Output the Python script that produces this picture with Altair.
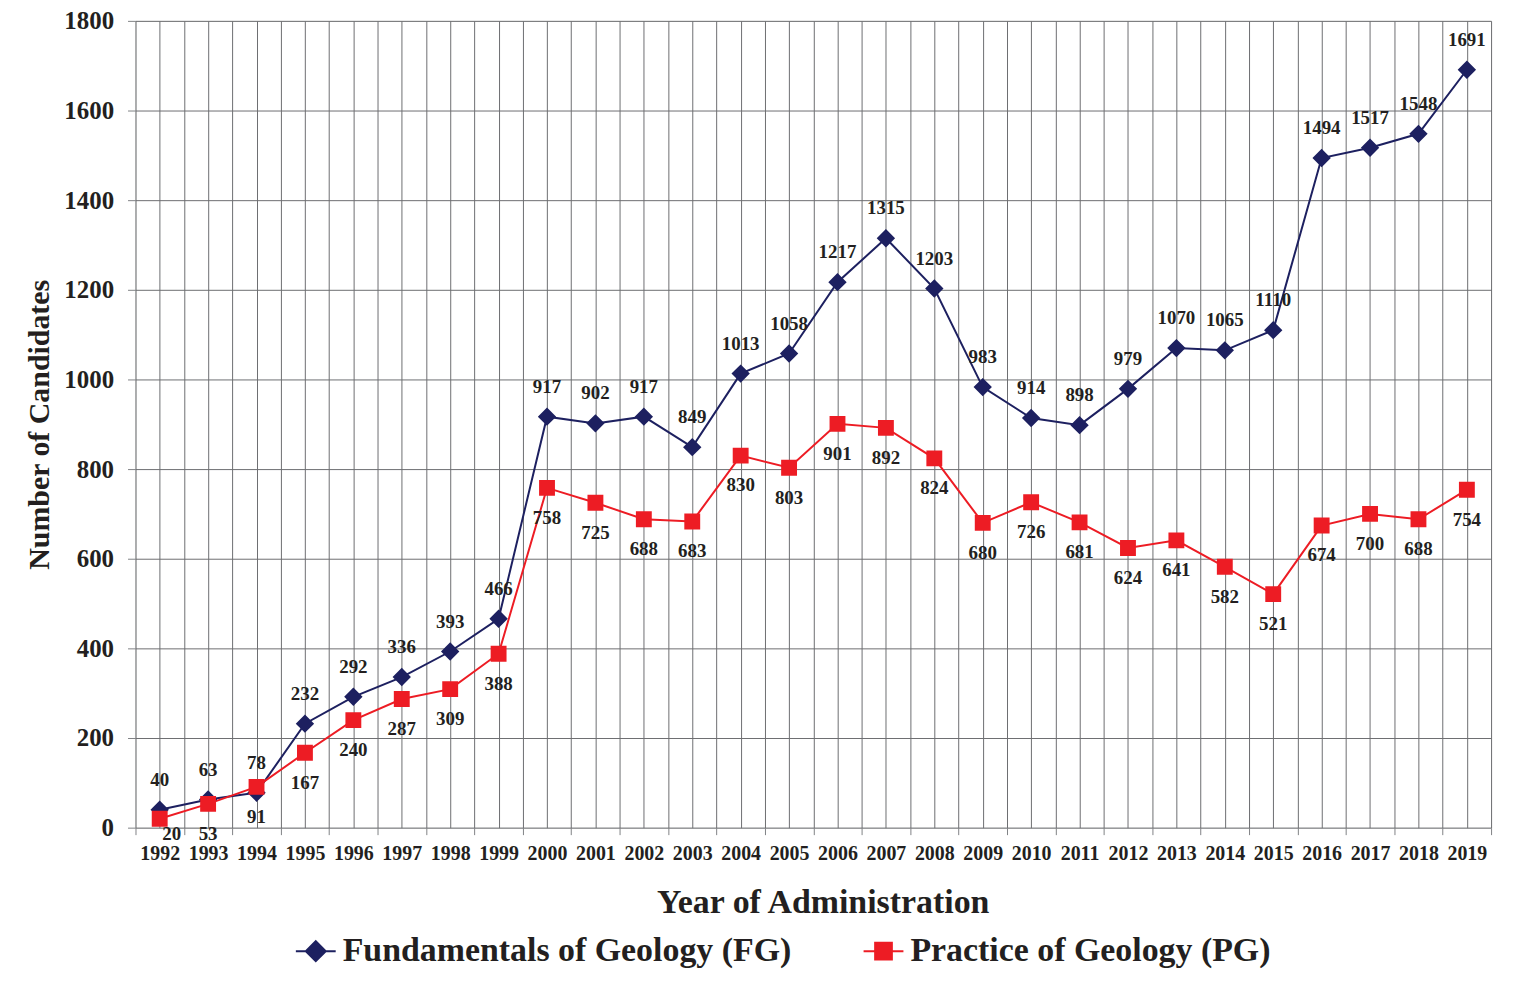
import altair as alt
import pandas as pd

years = list(range(1992, 2020))
fg = [40, 63, 78, 232, 292, 336, 393, 466, 917, 902, 917, 849, 1013, 1058,
      1217, 1315, 1203, 983, 914, 898, 979, 1070, 1065, 1110, 1494, 1517, 1548, 1691]
pg = [20, 53, 91, 167, 240, 287, 309, 388, 758, 725, 688, 683, 830, 803,
      901, 892, 824, 680, 726, 681, 624, 641, 582, 521, 674, 700, 688, 754]
series_names = ["Fundamentals of Geology (FG)", "Practice of Geology (PG)"]
colors = ["#1d2060", "#ed1c24"]
y_ticks = list(range(0, 1801, 200))

df = pd.DataFrame({
    "year": years * 2,
    "value": fg + pg,
    "series": [series_names[0]] * len(years) + [series_names[1]] * len(years),
})

FONT = "Liberation Serif"
TXT = "#231f20"
GRID = "#6d6e71"

x_vals = [1991.5 + 0.5 * i for i in range(57)]

x_enc = alt.X(
    "year:Q",
    scale=alt.Scale(domain=[1991.5, 2019.5], nice=False, zero=False),
    axis=alt.Axis(
        values=x_vals,
        labelExpr="datum.value % 1 === 0 ? format(datum.value, 'd') : ''",
        labelOverlap=False,
        labelFlush=False,
        labelFont=FONT, labelFontSize=20, labelFontWeight="bold", labelColor=TXT,
        labelPadding=9,
        tickSize=7,
        tickColor={"condition": {"test": "datum.value % 1 === 0", "value": "transparent"}, "value": "#808285"},
        grid=True, gridColor=GRID, gridWidth=1,
        domain=False,
        title="Year of Administration",
        titleFont=FONT, titleFontSize=34, titleFontWeight="bold", titleColor=TXT,
        titlePadding=22, titleX=690,
    ),
)
y_enc = alt.Y(
    "value:Q",
    scale=alt.Scale(domain=[0, 1800], nice=False),
    axis=alt.Axis(
        values=y_ticks, format="d",
        labelFont=FONT, labelFontSize=25, labelFontWeight="bold", labelColor=TXT,
        labelPadding=14, tickSize=8, tickColor="#808285",
        grid=True, gridColor=GRID, gridWidth=1,
        domain=False,
        title="Number of Candidates",
        titleFont=FONT, titleFontSize=30, titleFontWeight="bold", titleColor=TXT,
        titlePadding=9,
    ),
)

# legend symbols: short line with the marker on it
path_fg = "M-1,0L1,0M0,-0.5L0.5,0L0,0.5L-0.5,0Z"
path_pg = "M-1,0L1,0M-0.42,-0.42L0.42,-0.42L0.42,0.42L-0.42,0.42Z"

leg = alt.Legend(
    orient="none", legendX=160, legendY=913, direction="horizontal",
    title=None, labelFont=FONT, labelFontSize=34, labelFontWeight="bold",
    labelColor=TXT, labelLimit=1000, symbolSize=1600, symbolStrokeWidth=2,
    symbolOpacity=1, labelOffset=6, columnPadding=68,
)
# line colour scale uses a data-driven domain (same sorted order) and no legend
color_enc = alt.Color("series:N", scale=alt.Scale(range=colors), legend=None)
fill_enc = alt.Fill("series:N", scale=alt.Scale(domain=series_names, range=colors), legend=leg)
stroke_enc = alt.Stroke("series:N", scale=alt.Scale(domain=series_names, range=colors), legend=leg)
shape_enc = alt.Shape("series:N", scale=alt.Scale(domain=series_names, range=[path_fg, path_pg]), legend=leg)

base = alt.Chart(df)
is_fg = alt.datum.series == series_names[0]
is_pg = alt.datum.series == series_names[1]

lines = base.mark_line(strokeWidth=2).encode(x=x_enc, y=y_enc, color=color_enc)

pts_fg = base.transform_filter(is_fg).mark_point(
    filled=True, size=1360, opacity=1, strokeWidth=0
).encode(x=x_enc, y=y_enc, fill=fill_enc, stroke=stroke_enc, shape=shape_enc)
pts_pg = base.transform_filter(is_pg).mark_point(
    filled=True, size=1440, opacity=1, strokeWidth=0
).encode(x=x_enc, y=y_enc, fill=fill_enc, stroke=stroke_enc, shape=shape_enc)

lab_style = dict(font=FONT, fontSize=19, fontWeight="bold", color=TXT)
lab_fg = base.transform_filter(is_fg).mark_text(dy=-30, **lab_style).encode(
    x=x_enc, y=y_enc, text="value:Q")
lab_pg = base.transform_filter(is_pg & (alt.datum.value >= 30)).mark_text(dy=30, **lab_style).encode(
    x=x_enc, y=y_enc, text="value:Q")
lab_pg_low = base.transform_filter(is_pg & (alt.datum.value < 30)).mark_text(dy=15, dx=12, **lab_style).encode(
    x=x_enc, y=y_enc, text="value:Q")

chart = alt.layer(lines, pts_fg, pts_pg, lab_fg, lab_pg, lab_pg_low).properties(
    width=1361, height=810,
    autosize=alt.AutoSizeParams(type="none"),
    padding={"left": 128, "top": 11, "right": 20, "bottom": 145},
).configure_view(
    fill="#d1d3d4", stroke="#a7a9ac", strokeWidth=2
).configure(background="white")

chart.save("out.html", embed_options={"renderer": "svg", "actions": False})
